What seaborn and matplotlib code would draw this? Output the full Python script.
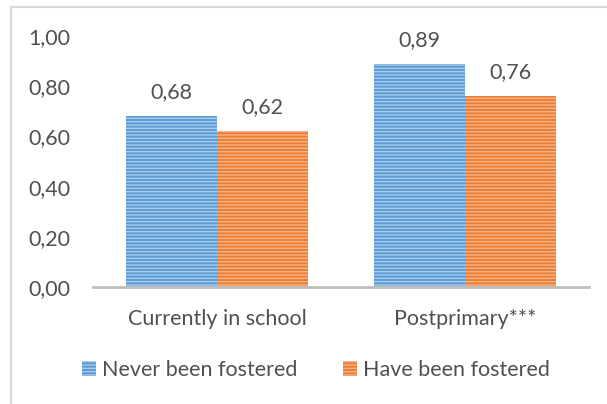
import matplotlib
matplotlib.use("Agg")
import matplotlib.pyplot as plt
import seaborn as sns
import pandas as pd
from matplotlib.patches import Rectangle
from matplotlib.lines import Line2D

categories = ["Currently in school", "Postprimary***"]
groups = ["Never been fostered", "Have been fostered"]
never_fostered = [0.68, 0.89]
have_fostered = [0.62, 0.76]
y_ticks = [0.0, 0.2, 0.4, 0.6, 0.8, 1.0]

face_colors = ["#5B9BD5", "#ED7D31"]
stripe_colors = ["#A8CAEC", "#F6B48A"]
text_color = "#505050"
font_size = 15.5

df = pd.DataFrame({
    "category": categories * 2,
    "group": [groups[0]] * len(categories) + [groups[1]] * len(categories),
    "value": never_fostered + have_fostered,
})

sns.set_theme(style="white")
plt.rcParams["font.family"] = ["Lato", "DejaVu Sans"]
plt.rcParams["hatch.linewidth"] = 1.0

fig = plt.figure(figsize=(6.07, 4.04), dpi=100)
ax = fig.add_axes([93 / 607, 117 / 404, 496 / 607, 251 / 404])

sns.barplot(data=df, x="category", y="value", hue="group", order=categories,
            hue_order=groups, palette=face_colors, width=0.73, ax=ax,
            legend=False, saturation=1)

for container, stripe in zip(ax.containers, stripe_colors):
    for bar in container:
        bar.set_hatch("-----")
        bar.set_edgecolor(stripe)
        bar.set_linewidth(0)
    labels = [f"{b.get_height():.2f}".replace(".", ",") for b in container]
    ax.bar_label(container, labels=labels, padding=10, fontsize=font_size,
                 color=text_color)

ax.set_xlim(-0.5, 1.5)
ax.set_ylim(0, 1.0)
ax.set_yticks(y_ticks)
ax.set_yticklabels([f"{v:.2f}".replace(".", ",") for v in y_ticks])
ax.set_xlabel("")
ax.set_ylabel("")
ax.tick_params(axis="both", length=0, labelsize=font_size, colors=text_color)
ax.tick_params(axis="y", pad=16.5)
ax.tick_params(axis="x", pad=16)
for side in ["left", "right", "top"]:
    ax.spines[side].set_visible(False)
ax.spines["bottom"].set_color("#BFBFBF")
ax.spines["bottom"].set_linewidth(2)
ax.grid(False)

handles = []
for fc, sc in zip(face_colors, stripe_colors):
    handles.append(Rectangle((0, 0), 1, 1, facecolor=fc, edgecolor=sc,
                             linewidth=0, hatch="-----"))
fig.legend(handles, groups, loc="center", bbox_to_anchor=(316 / 607, 1 - 370 / 404),
           ncol=2, frameon=False, fontsize=font_size, labelcolor=text_color,
           handlelength=0.65, handleheight=0.65, handletextpad=0.3,
           columnspacing=2.1)

# outer chart frame
fig.add_artist(Line2D([11 / 607, 11 / 607], [0, 1 - 7 / 404],
                      transform=fig.transFigure, color="#D9D9D9", linewidth=1.5))
fig.add_artist(Line2D([11 / 607, 1], [1 - 7 / 404, 1 - 7 / 404],
                      transform=fig.transFigure, color="#D9D9D9", linewidth=1.5))

fig.savefig("out.png", dpi=100, facecolor="white")
